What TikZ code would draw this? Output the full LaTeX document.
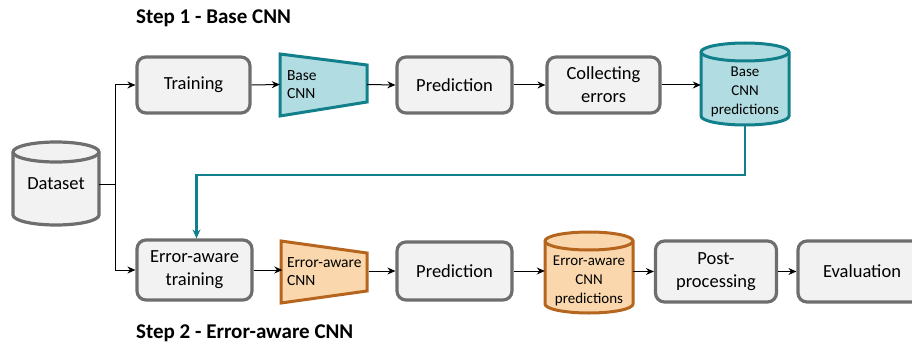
\documentclass[tikz,border=0pt]{standalone}
\usepackage{fontspec}
\setmainfont{Carlito}
\usetikzlibrary{arrows.meta,calc}
\definecolor{boxgray}{HTML}{6E6E6E}
\definecolor{boxfill}{HTML}{F2F2F2}
\definecolor{tealline}{HTML}{12808A}
\definecolor{tealfill}{HTML}{B1DDE2}
\definecolor{orline}{HTML}{B5651D}
\definecolor{orfill}{HTML}{FAD7AC}
\tikzset{
  procbox/.style={draw=boxgray, fill=boxfill, line width=3.2pt, rounded corners=9pt,
    align=center, inner sep=0pt, font=\fontsize{18.5}{23}\selectfont},
  arr/.style={-{Stealth[length=8pt,width=7pt]}, line width=1pt, black},
  tealarr/.style={-{Stealth[length=9pt,width=8pt]}, line width=2.2pt, tealline},
  tealshape/.style={draw=tealline, fill=tealfill, line width=3pt, line join=miter},
  orshape/.style={draw=orline, fill=orfill, line width=3pt, line join=miter},
  grayshape/.style={draw=boxgray, fill=boxfill, line width=3.2pt},
  trlabel/.style={inner sep=0pt, align=left, font=\fontsize{15.5}{18}\selectfont},
  cyllabel/.style={inner sep=0pt, align=center},
  steplabel/.style={anchor=west, inner sep=0pt, font=\fontsize{21}{24}\selectfont\bfseries}
}
% cylinder: style, cx, Ytop, Ybot, rx, ry
\newcommand{\mycyl}[6]{%
  \path[#1] (#2-#5,#3-#6) -- (#2-#5,#4+#6)
     arc[start angle=180,end angle=360,x radius=#5,y radius=#6]
     -- (#2+#5,#3-#6)
     arc[start angle=0,end angle=180,x radius=#5,y radius=#6] -- cycle;
  \draw[#1, fill=none] (#2-#5,#3-#6) arc[start angle=180,end angle=360,x radius=#5,y radius=#6];
}
\begin{document}
\begin{tikzpicture}[x=1pt,y=1pt]
\useasboundingbox (0,0) rectangle (912,346);
\clip (0,0) rectangle (912,346);

% step labels
\node[steplabel] (s1) at (136,328) {Step 1 - Base CNN};
\node[steplabel] (s2) at (136,13) {Step 2 - Error-aware CNN};

% dataset cylinder
\mycyl{grayshape}{56}{204}{121}{43}{10}
\node[cyllabel, minimum width=86pt, font=\fontsize{18.5}{22}\selectfont] (ds) at (56,162) {Dataset};

% row 1
\node[procbox, minimum width=113pt, minimum height=56pt] (train) at (193.5,261) {Training};
\draw[tealshape] (280,292) -- (367,281) -- (367,244) -- (280,230) -- cycle;
\node[trlabel, minimum width=87pt, minimum height=62pt, text width=73pt] (t1) at (323.5,261.5) {Base\\CNN};
\node[procbox, minimum width=115pt, minimum height=56pt] (pred1) at (454.5,261) {Prediction};
\node[procbox, minimum width=113pt, minimum height=56pt] (collect) at (603.5,261) {Collecting\\errors};
\mycyl{tealshape}{745}{303}{221}{44}{9}
\node[cyllabel, minimum width=88pt, font=\fontsize{15}{19}\selectfont] (bpred) at (745,254) {Base\\CNN\\predictions};
\coordinate (bpredbot) at (745,221);

% row 2
\node[procbox, minimum width=115pt, minimum height=60pt] (eatrain) at (194.5,76) {Error-aware\\training};
\draw[orshape] (281,105) -- (367,93) -- (367,55) -- (281,43) -- cycle;
\node[trlabel, minimum width=86pt, minimum height=62pt, text width=77pt] (t2) at (325.5,74.5) {Error-aware\\CNN};
\node[procbox, minimum width=115pt, minimum height=58pt] (pred2) at (454.5,75) {Prediction};
\mycyl{orshape}{589}{114}{33}{44}{9}
\node[cyllabel, minimum width=88pt, font=\fontsize{15}{19}\selectfont] (epred) at (589,65) {Error-aware\\CNN\\predictions};
\node[procbox, minimum width=121pt, minimum height=61pt] (post) at (716,74.5) {Post-\\processing};
\node[procbox, minimum width=128pt, minimum height=61pt] (eval) at (862,74.5) {Evaluation};

% connectors
\coordinate (split) at (115,162);
\draw[line width=1pt] (ds.east) -- (split);
\draw[arr] (split) |- (train.west);
\draw[arr] (split) |- (eatrain.west);
\draw[arr] (train.east) -- (t1.west);
\draw[arr] (t1.east) -- (pred1.west);
\draw[arr] (pred1.east) -- (collect.west);
\draw[arr] (collect.east) -- (collect.east -| bpred.west);
\coordinate (turn) at (745,171);
\draw[tealarr] (bpredbot) -- (turn) -| ([xshift=2pt]eatrain.north);
\draw[arr] (eatrain.east) -- (eatrain.east -| t2.west);
\draw[arr] (t2.east |- pred2.west) -- (pred2.west);
\draw[arr] (pred2.east) -- (pred2.east -| epred.west);
\draw[arr] (epred.east |- post.west) -- (post.west);
\draw[arr] (post.east) -- (eval.west);
\end{tikzpicture}
\end{document}
